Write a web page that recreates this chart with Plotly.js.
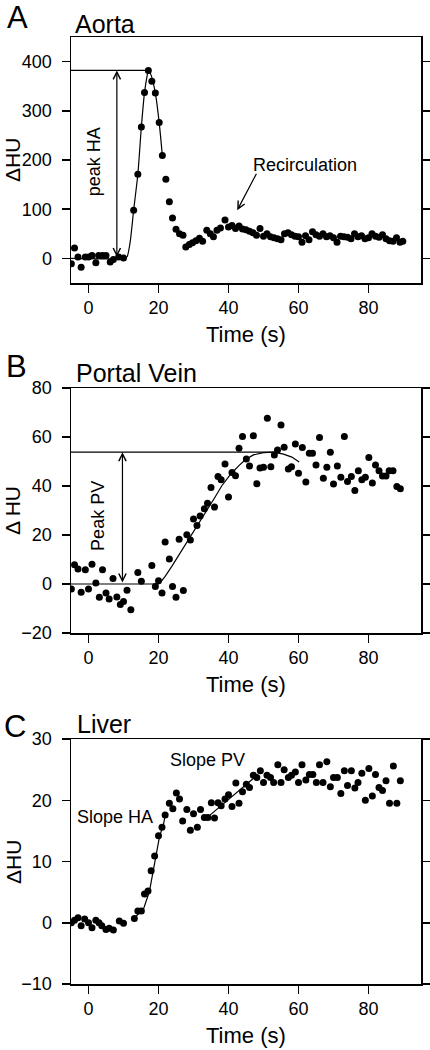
<!DOCTYPE html>
<html>
<head>
<meta charset="utf-8">
<script src="https://cdn.plot.ly/plotly-3.0.1.min.js"></script>
<style>html,body{margin:0;padding:0;background:#fff;}#chart{width:430px;height:1050px;}</style>
</head>
<body>
<div id="chart"></div>
<script>
// ---------- DATA ----------
const aortaX = [-4.9,-4,-3,-2.1,-0.9,0,1,2.1,2.9,4,5,6.2,7.1,8.6,10,12.9,14.1,15.1,16,17.1,18.1,19.1,20.2,21.1,22.1,23.1,24,25,26,27,27.8,28.8,29.7,30.7,31.7,32.6,33.8,34.8,35.7,36.7,37.7,39,40,41,42,43,44,45,46,47,48,49,50,51,52,53,54,55,56,57,58,59,60,61,62,63,64,65,66,67,68,69,70,71,72,73,74,75,76,77,78,79,80,81,82,83,84,85,86,87,88,89,89.8];
const aortaY = [-11,21,3,-18,3,3,6,-9,6,6,6,-7.5,-2,2.7,0.7,98,171,267,337,382,360,336,276,209,161,115,82,59,50,47,23,28,32,36,41,35,57,50,44,57,62,78,64,67,61,66,60,58,55,52,47,61,45,50,44,42,40,38,50,52,48,45,44,33,46,38,54,48,45,50,44,46,42,33,45,44,43,40,50,44,46,40,42,50,45,43,48,40,36,35,42,33,35];
const aortaFitX = [-5,10,11,11.9,12.9,14.1,15.1,16,16.8,17.1,17.9,19.1,20.2,21.1];
const aortaFitY = [0,0,3,33,98,171,267,337,373,382,372,336,276,209];
const peakHA = 382, peakHAEndX = 17.1, peakHAArrowX = 8.1;
const recircHead = [42.5, 98], recircTail = [48.2, 175], recircText = [61.9, 189];

const portalX = [-4.9,-4,-3,-2.1,-0.9,0,1,2.1,3.1,4,5,5.9,7,8.1,9.1,10,11,12.1,14.1,15.1,18.1,19.1,20,21,21.9,23.1,24,25,25.9,27.1,28.1,29.1,30,31,31.9,33.1,34,35,36,37,37.9,39,40,41,42,43,44,45.1,46,47.1,48.1,49,50,51.1,52.1,53.1,54,55,55.9,57.1,58,59.1,60,61.1,62.1,63.1,64,65,66,67.1,68.1,69.1,70,71.1,72.1,73.1,74,75.1,76.1,77.1,78.1,79.1,80.1,81.1,82,83,84,85,85.9,87,88.1,89.1];
const portalY = [-2,7.9,6.1,-3.4,5.8,-2,8.1,0.4,-5.4,5.8,-3.7,-6.1,2.2,-5.3,-8.4,-7.1,-2.6,-10.5,4.7,1.1,7.6,-1,1.3,-3.7,17.1,10.2,-1,-5.4,18.3,-2.7,20.1,18,26.5,23.9,27.8,30.7,33,39.4,31.4,43.9,42.5,49,35.5,45.5,44.2,55.4,60.2,51,48.2,60.5,40.9,47.3,47.7,67.7,47.9,52.7,54.7,64.9,55.8,46.9,47.9,57.1,45.2,55.7,41.6,53.4,53.4,48.6,59.8,43.2,47.7,53.8,40.8,48.2,43.6,60.2,41.8,43.9,38.2,46.2,42.5,43.6,51.6,41.2,48.6,46.2,44.1,44.1,46.2,46.2,39.8,38.9];
const portalFitX = [-5,20,20.5,21.9,23.8,26.2,28.6,31,33.3,35.7,38.1,40.5,42.9,44.8,47.1,50,52.9,55.7,58.1,60.2];
const portalFitY = [0,0,0.6,3.1,7.2,12.6,18.3,23.5,28.9,34.4,40.1,44.6,48.2,50.7,52.7,53.6,53.8,53,51.8,49.8];
const peakPV = 53.8, peakPVEndX = 52.9, peakPVArrowX = 9.7;

const liverX = [-4.9,-4,-3,-2.1,-1.1,0,1,2.1,3,3.8,5,5.9,7.1,8.8,10,13.1,14.1,15.1,16,17,17.9,18.9,20,21,21.9,23.1,24.1,25.1,26,26.9,28.1,29.1,30,31.1,32,33.1,34.1,35.1,36,37,37.9,39,40,41,42.1,43,44,45.1,46,47.1,48.1,49.1,50,51,52,52.9,54.1,55,55.9,57.1,58,59.1,60,61,62.1,63.1,64.1,65.1,66,67,68.1,69.1,70,71.1,72.1,73.1,74,75.1,76.1,77,78.1,79.1,80.1,81.1,82,83,84,85,86,87.1,88.1,89.1];
const liverY = [0,0.4,0.8,-0.5,0.6,0,-0.8,0.4,0,-0.5,-1.1,-0.9,-1.2,0.3,-0.1,0.7,1.9,1.9,4.7,5.2,8.5,10.9,14.2,15.6,17.6,19.5,18.6,21.2,20.2,16.6,18.5,15.1,17.8,15.6,18.5,17.2,17.2,19.6,17.1,19.6,19.1,20.2,20.9,19,22.8,19.5,21.4,22.6,22.1,24.1,23.7,24.8,22.9,24.1,23.7,22.9,25.8,22.9,25,23.7,24.1,24.6,22.9,25.8,23.3,24.2,24.2,22.9,25.8,22.9,26.3,22.2,23.7,23.7,21.1,24.8,22.4,24.8,22,22.9,24.4,20,25.2,20.7,24.2,22.1,21.6,23.2,19.5,25.6,19.5,23.2];
const slopeHAX = [12.9,15.7,17.4,19.1,20.3,21.4,22];
const slopeHAY = [0.7,2.2,5.1,10.8,14.1,16,17.8];
const slopePVX = [33.1,47.6];
const slopePVY = [16.8,23.8];

const xTicks = [0,20,40,60,80];
const yTicksA = [0,100,200,300,400];
const yTicksB = [-20,0,20,40,60,80];
const yTicksC = [-10,0,10,20,30];
const xRange = [-5,95];
const yRangeA = [-50,450], yRangeB = [-20,80], yRangeC = [-10,30];

// ---------- STYLE / LAYOUT ----------
const FONT = 'Liberation Sans, Arial, sans-serif';
const L = 71, R = 9, T = 37, B = 66, W = 430, H = 1050;
const PW = W - L - R, PH = H - T - B, BOT = H - B;
const px = v => (v - L) / PW;
const py = v => (BOT - v) / PH;

const mk = {color: 'black', size: 7};
const ln = {color: 'black', width: 1.2};

const traces = [
  {x: aortaFitX, y: aortaFitY, xaxis: 'x', yaxis: 'y', mode: 'lines', line: Object.assign({shape: 'spline', smoothing: 0.6}, ln), hoverinfo: 'skip'},
  {x: [xRange[0], peakHAEndX], y: [peakHA, peakHA], xaxis: 'x', yaxis: 'y', mode: 'lines', line: ln},
  {x: aortaX, y: aortaY, xaxis: 'x', yaxis: 'y', mode: 'markers', marker: mk},
  {x: portalFitX, y: portalFitY, xaxis: 'x2', yaxis: 'y2', mode: 'lines', line: ln},
  {x: [xRange[0], peakPVEndX], y: [peakPV, peakPV], xaxis: 'x2', yaxis: 'y2', mode: 'lines', line: ln},
  {x: portalX, y: portalY, xaxis: 'x2', yaxis: 'y2', mode: 'markers', marker: mk},
  {x: slopeHAX, y: slopeHAY, xaxis: 'x3', yaxis: 'y3', mode: 'lines', line: ln},
  {x: slopePVX, y: slopePVY, xaxis: 'x3', yaxis: 'y3', mode: 'lines', line: ln},
  {x: liverX, y: liverY, xaxis: 'x3', yaxis: 'y3', mode: 'markers', marker: mk}
];

const axBase = {
  showline: true, linecolor: 'black', linewidth: 1.5,
  ticks: 'outside', ticklen: 8, tickwidth: 1.5, tickcolor: 'black',
  showgrid: false, zeroline: false, fixedrange: true,
  tickfont: {family: FONT, size: 18, color: 'black'}
};
const xa = (anchor) => Object.assign({}, axBase, {range: xRange, tickmode: 'array', tickvals: xTicks, mirror: true, anchor: anchor, domain: [0, 1], ticklabelstandoff: 0});
const ya = (range, ticks, dom, anchor) => Object.assign({}, axBase, {range: range, tickmode: 'array', tickvals: ticks, mirror: 'ticks', anchor: anchor, domain: dom, ticklabelstandoff: 6});

const txt = (text, x, y, size, extra) => Object.assign({text: text, x: x, y: y, xref: 'paper', yref: 'paper', showarrow: false, xanchor: 'center', yanchor: 'middle', font: {family: FONT, size: size, color: 'black'}}, extra || {});
const dtxt = (text, x, y, xr, yr, size, extra) => Object.assign({text: text, x: x, y: y, xref: xr, yref: yr, showarrow: false, xanchor: 'center', yanchor: 'middle', font: {family: FONT, size: size, color: 'black'}}, extra || {});
const arrow = (x, y, ax, ay, xr, yr, both) => ({text: '', x: x, y: y, ax: ax, ay: ay, xref: xr, yref: yr, axref: xr, ayref: yr, showarrow: true, arrowhead: 5, startarrowhead: 5, arrowside: both ? 'end+start' : 'end', arrowsize: 1.2, arrowwidth: 1.2, arrowcolor: 'black', standoff: 0, startstandoff: 0});

const annotations = [
  txt('A', px(17), py(18), 31),
  txt('Aorta', px(73), py(24), 25, {xanchor: 'left'}),
  txt('B', px(16), py(367), 31),
  txt('Portal Vein', px(74), py(373), 25, {xanchor: 'left'}),
  txt('C', px(15), py(726), 31),
  txt('Liver', px(75), py(724), 25, {xanchor: 'left'}),
  txt('\u0394HU', px(13), py(160), 21, {textangle: -90}),
  txt('\u0394 HU', px(13), py(511), 21, {textangle: -90}),
  txt('\u0394HU', px(13), py(862), 21, {textangle: -90}),
  txt('Time (s)', px(246), py(335), 22),
  txt('Time (s)', px(246), py(685), 22),
  txt('Time (s)', px(246), py(1035), 22),
  arrow(peakHAArrowX, peakHA, peakHAArrowX, 0, 'x', 'y', true),
  dtxt('peak HA', 1.43, 196.5, 'x', 'y', 18, {textangle: -90}),
  arrow(recircHead[0], recircHead[1], recircTail[0], recircTail[1], 'x', 'y', false),
  dtxt('Recirculation', recircText[0], recircText[1], 'x', 'y', 18),
  arrow(peakPVArrowX, peakPV, peakPVArrowX, 0, 'x2', 'y2', true),
  dtxt('Peak PV', 2.86, 27.6, 'x2', 'y2', 18, {textangle: -90}),
  dtxt('Slope HA', 7.66, 17.3, 'x3', 'y3', 18),
  dtxt('Slope PV', 34.1, 26.5, 'x3', 'y3', 18)
];

const layout = {
  width: W, height: H,
  margin: {l: L, r: R, t: T, b: B, pad: 0},
  paper_bgcolor: '#ffffff', plot_bgcolor: '#ffffff',
  showlegend: false,
  font: {family: FONT, color: 'black'},
  xaxis: xa('y'), xaxis2: xa('y2'), xaxis3: xa('y3'),
  yaxis: ya(yRangeA, yTicksA, [py(283), 1], 'x'),
  yaxis2: ya(yRangeB, yTicksB, [py(633), py(388)], 'x2'),
  yaxis3: ya(yRangeC, yTicksC, [0, py(739)], 'x3'),
  annotations: annotations
};

Plotly.newPlot('chart', traces, layout, {displayModeBar: false, staticPlot: true});
</script>
</body>
</html>
